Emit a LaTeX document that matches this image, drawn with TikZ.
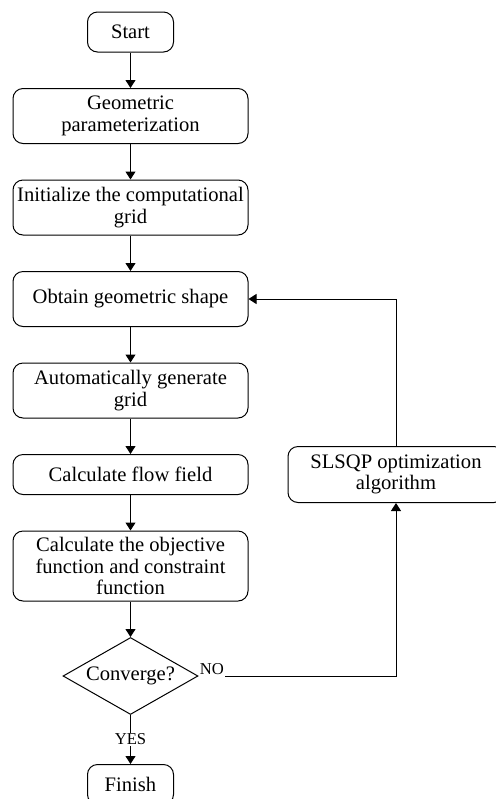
\documentclass[tikz,border=0pt]{standalone}
\usepackage{fontspec}
\setmainfont{Liberation Serif}
\usetikzlibrary{
  	positioning,
  	shapes.geometric,
  	arrows.meta
  }

\begin{document}
\begin{tikzpicture}[font=\fontsize{10.3}{10.8}\selectfont, node distance=17.75pt,
	box/.style={draw, line width=.5pt, rounded corners=5pt, align=center, minimum width=117.5pt, inner sep=1pt},
	term/.style={draw, line width=.5pt, rounded corners=5pt, minimum width=43pt, minimum height=20pt, inner sep=1pt},
	decide/.style={draw, line width=.5pt, diamond, aspect=1.75, inner sep=0pt, minimum width=67.5pt, minimum height=38.5pt},
	arr/.style={-{Triangle[length=4pt, width=5pt]}, line width=.5pt},
	lab/.style={font=\fontsize{8.3}{9}\selectfont, inner sep=.5pt}]
	\useasboundingbox (0,0) rectangle (247.5pt,-399.5pt);
%
	\node[term] (start) at (65.25pt,-16pt) {Start};
	\node[box, below=of start, minimum height=27.5pt] (param) {Geometric\\parameterization};
	\node[box, below=of param, minimum height=27.5pt] (init) {Initialize the computational\\grid};
	\node[box, below=of init, minimum height=27.5pt] (shape) {Obtain geometric shape};
	\node[box, below=of shape, minimum height=27.5pt] (mesh) {Automatically generate\\grid};
	\node[box, below=of mesh, minimum height=20pt] (flow) {Calculate flow field};
	\node[box, below=of flow, minimum height=35pt] (obj) {Calculate the objective\\function and constraint\\function};
	\node[decide, below=of obj] (conv) {Converge?};
	\node[term, below=24.5pt of conv] (finish) {Finish};
%
	\node[box, right=19.5pt of flow, minimum width=108pt, minimum height=28pt] (slsqp) {SLSQP optimization\\algorithm};
	\node[lab, anchor=south west] (no) at (conv.east) {NO};
%
	\draw[arr] (start) -- (param);
	\draw[arr] (param) -- (init);
	\draw[arr] (init) -- (shape);
	\draw[arr] (shape) -- (mesh);
	\draw[arr] (mesh) -- (flow);
	\draw[arr] (flow) -- (obj);
	\draw[arr] (obj) -- (conv);
	\draw[arr] (conv) -- node[lab, fill=white] (yes) {YES} (finish);
	\draw[arr] (no.south east) -| (slsqp.south);
	\draw[arr] (slsqp.north) |- (shape.east);
\end{tikzpicture}
\end{document}
